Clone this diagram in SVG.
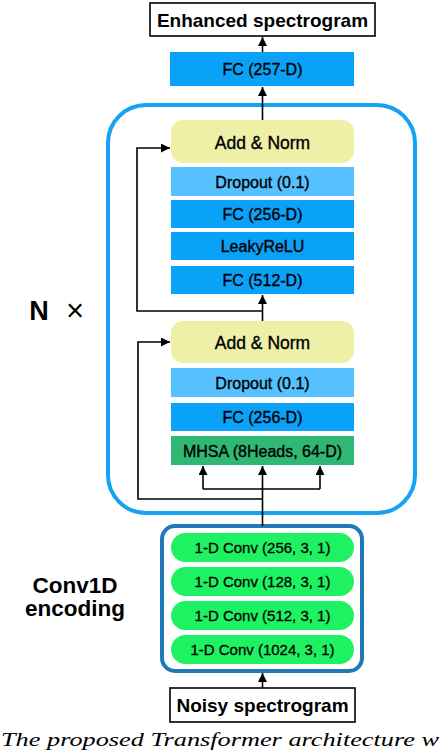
<svg xmlns="http://www.w3.org/2000/svg" width="442" height="752" viewBox="0 0 442 752">
<style>
text{font-family:"Liberation Sans",Arial,sans-serif;fill:#000;text-anchor:middle}
.io{fill:#fff;stroke:#000;stroke-width:1.6}
.iot{font-weight:bold;font-size:19px}
.fc{fill:#0aa2f8}
.dp{fill:#55c1ff}
.an{fill:#eef0a8}
.mh{fill:#2fb874}
.cv{fill:#1ef262}
.lt{font-size:16px;stroke:#000;stroke-width:0.35}
.ct{font-size:15px;stroke:#000;stroke-width:0.3}
.con{fill:none;stroke:#000;stroke-width:1.6}
</style>
<defs>
<marker id="ah" markerUnits="userSpaceOnUse" markerWidth="9" markerHeight="9" refX="9" refY="4.5" orient="auto">
<path d="M0,0 L9,4.5 L0,9 z" fill="#000"/>
</marker>
</defs>
<rect x="0" y="0" width="442" height="752" fill="#fff"/>

<g id="transformer-block">
<rect x="108" y="105" width="307" height="408" rx="38" fill="none" stroke="#16a1f5" stroke-width="4"/>
</g>
<g id="conv-block">
<rect x="162" y="526" width="200" height="145" rx="13" fill="none" stroke="#1f78b8" stroke-width="4"/>
</g>

<g id="connectors">
<line class="con" x1="262.5" y1="688" x2="262.5" y2="673" marker-end="url(#ah)"/>
<line class="con" x1="262.5" y1="526" x2="262.5" y2="466" marker-end="url(#ah)"/>
<polyline class="con" points="203,489 320,489"/>
<line class="con" x1="203" y1="489" x2="203" y2="466" marker-end="url(#ah)"/>
<line class="con" x1="320" y1="489" x2="320" y2="466" marker-end="url(#ah)"/>
<polyline class="con" points="262.5,499 138,499 138,342 170,342" marker-end="url(#ah)"/>
<line class="con" x1="262.5" y1="321" x2="262.5" y2="295" marker-end="url(#ah)"/>
<polyline class="con" points="262.5,311 137,311 137,148 170,148" marker-end="url(#ah)"/>
<line class="con" x1="262.5" y1="120" x2="262.5" y2="87" marker-end="url(#ah)"/>
<line class="con" x1="262.5" y1="52" x2="262.5" y2="37" marker-end="url(#ah)"/>
</g>

<g id="enhanced">
<rect class="io" x="150" y="3" width="225" height="33"/>
<text class="iot" x="262.5" y="26.5">Enhanced spectrogram</text>
</g>
<g id="fc257">
<rect class="fc" x="170" y="52" width="184" height="34"/>
<text class="lt" x="262.5" y="75">FC (257-D)</text>
</g>
<g id="addnorm1">
<rect class="an" x="171" y="120" width="183" height="43" rx="12"/>
<text class="lt" x="262.5" y="148.5" style="font-size:17.5px">Add &amp; Norm</text>
</g>
<g id="dropout1">
<rect class="dp" x="171" y="167" width="183" height="29"/>
<text class="lt" x="262.5" y="187.5">Dropout (0.1)</text>
</g>
<g id="fc256a">
<rect class="fc" x="171" y="200" width="183" height="28"/>
<text class="lt" x="262.5" y="220">FC (256-D)</text>
</g>
<g id="leakyrelu">
<rect class="fc" x="171" y="232" width="183" height="28"/>
<text class="lt" x="262.5" y="252">LeakyReLU</text>
</g>
<g id="fc512">
<rect class="fc" x="171" y="266" width="183" height="28"/>
<text class="lt" x="262.5" y="286">FC (512-D)</text>
</g>
<g id="addnorm2">
<rect class="an" x="171" y="321" width="183" height="42" rx="12"/>
<text class="lt" x="262.5" y="348.5" style="font-size:17.5px">Add &amp; Norm</text>
</g>
<g id="dropout2">
<rect class="dp" x="171" y="368" width="183" height="29"/>
<text class="lt" x="262.5" y="388.5">Dropout (0.1)</text>
</g>
<g id="fc256b">
<rect class="fc" x="171" y="403" width="183" height="28"/>
<text class="lt" x="262.5" y="423">FC (256-D)</text>
</g>
<g id="mhsa">
<rect class="mh" x="171" y="436" width="183" height="29"/>
<text class="lt" x="262.5" y="456.5">MHSA (8Heads, 64-D)</text>
</g>

<g id="conv1">
<rect class="cv" x="171" y="533" width="183" height="29" rx="14.5"/>
<text class="ct" x="262.5" y="553">1-D Conv (256, 3, 1)</text>
</g>
<g id="conv2">
<rect class="cv" x="171" y="567" width="183" height="29" rx="14.5"/>
<text class="ct" x="262.5" y="587">1-D Conv (128, 3, 1)</text>
</g>
<g id="conv3">
<rect class="cv" x="171" y="601" width="183" height="29" rx="14.5"/>
<text class="ct" x="262.5" y="621">1-D Conv (512, 3, 1)</text>
</g>
<g id="conv4">
<rect class="cv" x="171" y="635" width="183" height="29" rx="14.5"/>
<text class="ct" x="262.5" y="655">1-D Conv (1024, 3, 1)</text>
</g>
<g id="noisy">
<rect class="io" x="170" y="688" width="185" height="34"/>
<text class="iot" x="262.5" y="712">Noisy spectrogram</text>
</g>

<g id="labels">
<text x="39" y="320" font-size="27px" font-weight="bold">N</text>
<text x="75" y="321" font-size="31px">×</text>
<text x="75" y="592.5" font-size="22.5px" font-weight="bold">Conv1D</text>
<text x="75" y="615.5" font-size="22.5px" font-weight="bold">encoding</text>
<text x="1" y="746" font-size="19px" font-style="italic" style="font-family:'Liberation Serif','Times New Roman',serif;text-anchor:start" textLength="438" lengthAdjust="spacingAndGlyphs">The proposed Transformer architecture w</text>
</g>
</svg>
